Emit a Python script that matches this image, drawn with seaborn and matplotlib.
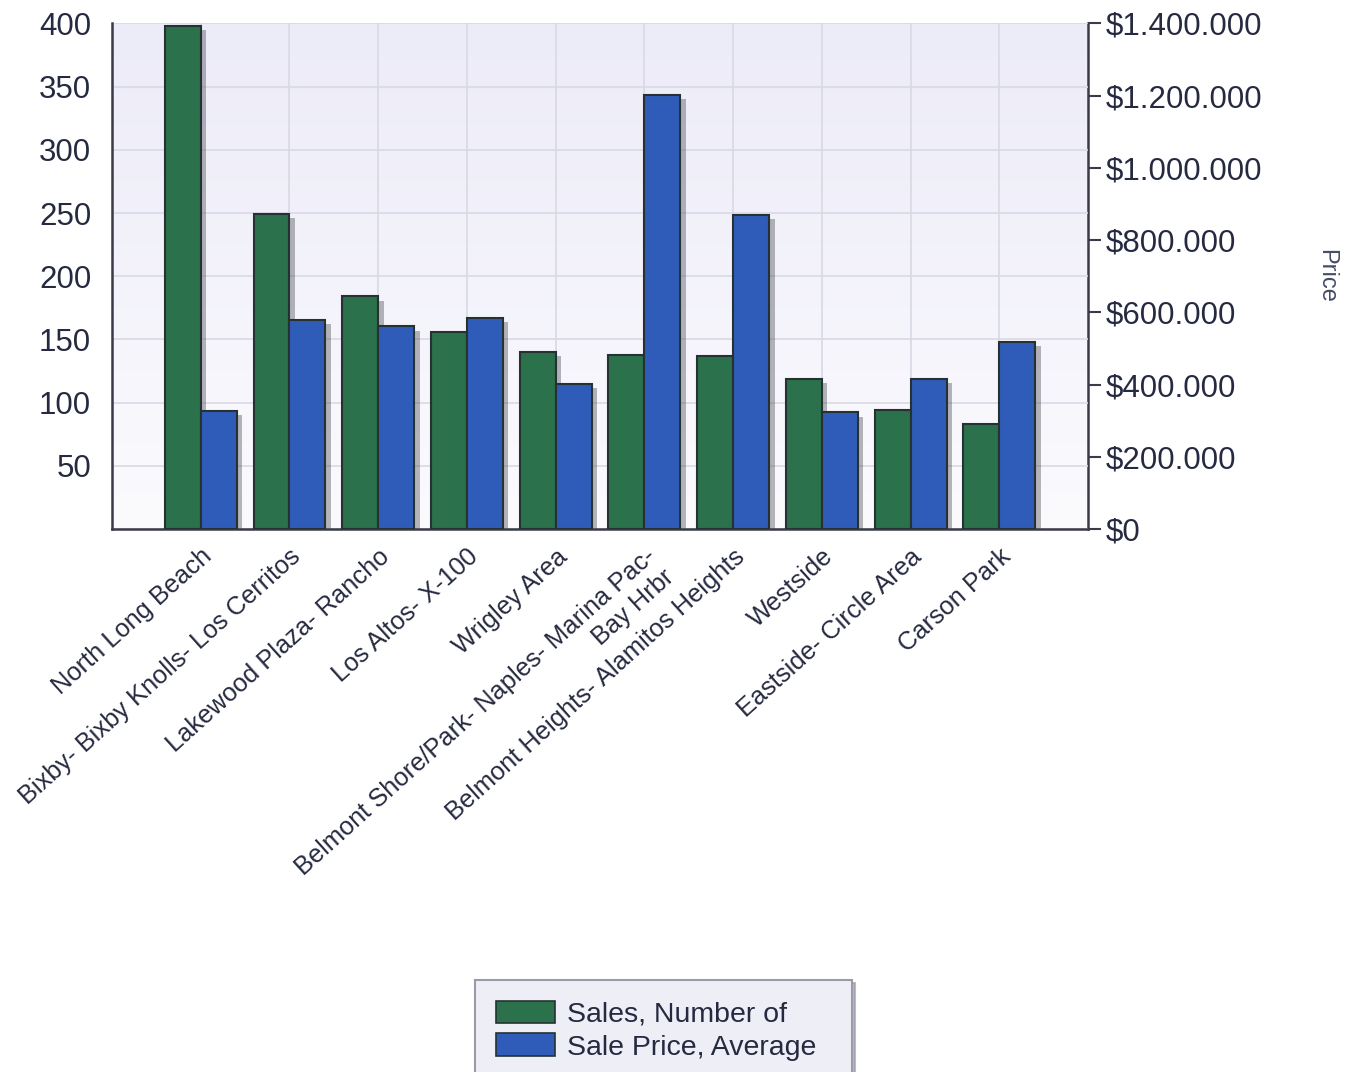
import numpy as np
import pandas as pd
import matplotlib
matplotlib.use("Agg")
import matplotlib.pyplot as plt
import matplotlib.patches as mpatches
import matplotlib.patheffects as pe
from matplotlib.ticker import FuncFormatter
import seaborn as sns

# ---------------- data ----------------
regions = [
    "North Long Beach",
    "Bixby- Bixby Knolls- Los Cerritos",
    "Lakewood Plaza- Rancho",
    "Los Altos- X-100",
    "Wrigley Area",
    "Belmont Shore/Park- Naples- Marina Pac-\nBay Hrbr",
    "Belmont Heights- Alamitos Heights",
    "Westside",
    "Eastside- Circle Area",
    "Carson Park",
]
sales_count = [398, 249, 184, 156, 140, 138, 137, 119, 94, 83]
avg_price = [327000, 579000, 561000, 584000, 402000, 1203000, 869000, 323000, 415000, 519000]
series_names = ["Sales, Number of", "Sale Price, Average"]
series_colors = ["#2b714b", "#2f5cb8"]
left_ticks = [0, 50, 100, 150, 200, 250, 300, 350, 400]
left_tick_labels = ["", "50", "100", "150", "200", "250", "300", "350", "400"]
right_ticks = [0, 200000, 400000, 600000, 800000, 1000000, 1200000, 1400000]
price_axis_label = "Price"

LEFT_MAX = 400
RIGHT_MAX = 1400000
RATIO = RIGHT_MAX / LEFT_MAX  # dollars per left-axis unit

# long table for seaborn (price expressed in left-axis units, secondary axis converts back)
df = pd.DataFrame({
    "region": regions * 2,
    "series": [series_names[0]] * len(regions) + [series_names[1]] * len(regions),
    "value": list(sales_count) + [p / RATIO for p in avg_price],
})

# ---------------- style ----------------
sns.set_style("white")
plt.rcParams["font.family"] = ["Liberation Sans", "DejaVu Sans"]
TXT = "#262a40"
AXC = "#3a3a48"

fig = plt.figure(figsize=(13.56, 10.72), dpi=100)
fig.patch.set_facecolor("white")
ax = fig.add_axes([0.0826, 0.5065, 0.7198, 0.4716])

# background gradient of plot area
grad = np.linspace(0, 1, 256).reshape(-1, 1)
top_c = np.array([0xEC, 0xEB, 0xF8]) / 255.0
bot_c = np.array([0xFB, 0xFB, 0xFE]) / 255.0
img = top_c[None, None, :] * (1 - grad[:, :, None]) + bot_c[None, None, :] * grad[:, :, None]
ax.imshow(img, extent=(0, 1, 0, 1), transform=ax.transAxes, aspect="auto", zorder=-2)

sns.barplot(
    data=df, x="region", y="value", hue="series",
    order=regions, hue_order=series_names, palette=series_colors,
    saturation=1, width=0.81, dodge=True, errorbar=None, legend=False,
    edgecolor="#263232", linewidth=1.5, ax=ax, zorder=3,
)

for p in ax.patches:
    p.set_path_effects([
        pe.SimplePatchShadow(offset=(4, -3), shadow_rgbFace="#4a4a55", alpha=0.4),
        pe.Normal(),
    ])

ax.set_xlim(-1, len(regions))
ax.set_ylim(0, LEFT_MAX)

# x ticks (including one at the left edge)
ax.set_xticks(list(range(-1, len(regions))))
ax.set_xticklabels([""] + regions, rotation=42, ha="right", va="top",
                   rotation_mode="anchor", fontsize=18.3, color=TXT)
ax.tick_params(axis="x", direction="out", length=8, width=1.5, color=AXC, pad=3)

ax.set_yticks(left_ticks)
ax.set_yticklabels(left_tick_labels, fontsize=22.5, color=TXT)
ax.tick_params(axis="y", direction="out", length=12, width=1.5, color=AXC, pad=3)

ax.set_xlabel("")
ax.set_ylabel("")

ax.grid(True, color="#d9d9e6", linewidth=1.2)
ax.set_axisbelow(True)

for s in ["top", "right"]:
    ax.spines[s].set_visible(False)
for s in ["left", "bottom"]:
    ax.spines[s].set_color(AXC)
    ax.spines[s].set_linewidth(1.8)

# secondary (price) axis
sec = ax.secondary_yaxis("right", functions=(lambda y: y * RATIO, lambda v: v / RATIO))
sec.set_yticks(right_ticks)
sec.yaxis.set_major_formatter(FuncFormatter(lambda v, _: "$" + f"{int(round(v)):,}".replace(",", ".")))
sec.tick_params(axis="y", direction="out", length=9, width=1.5, color=AXC, pad=4,
                labelsize=22.5, labelcolor=TXT)
sec.spines["right"].set_color(AXC)
sec.spines["right"].set_linewidth(1.8)
sec.set_ylabel(price_axis_label, rotation=270, fontsize=17, color="#454a66", labelpad=38, va="bottom")

# legend
handles = [mpatches.Patch(facecolor=c, edgecolor="#263232", linewidth=1.2) for c in series_colors]
leg_x0, leg_top = 475 / 1356, 1 - 980 / 1072
leg_w = (852 - 475) / 1356
leg = fig.legend(
    handles, series_names, loc="upper left",
    bbox_to_anchor=(leg_x0, 0.0, leg_w, leg_top), mode="expand",
    bbox_transform=fig.transFigure, frameon=True, fancybox=False,
    shadow={"color": "#9090a0", "alpha": 0.6}, borderaxespad=0, borderpad=0.72,
    handlelength=2.1, handleheight=0.85, handletextpad=0.4, labelspacing=0.2,
    fontsize=20.5, labelcolor=TXT,
)
leg.get_frame().set_facecolor("#eeeef7")
leg.get_frame().set_edgecolor("#9a9aa8")
leg.get_frame().set_linewidth(1.5)

fig.savefig("out.png", dpi=100)
